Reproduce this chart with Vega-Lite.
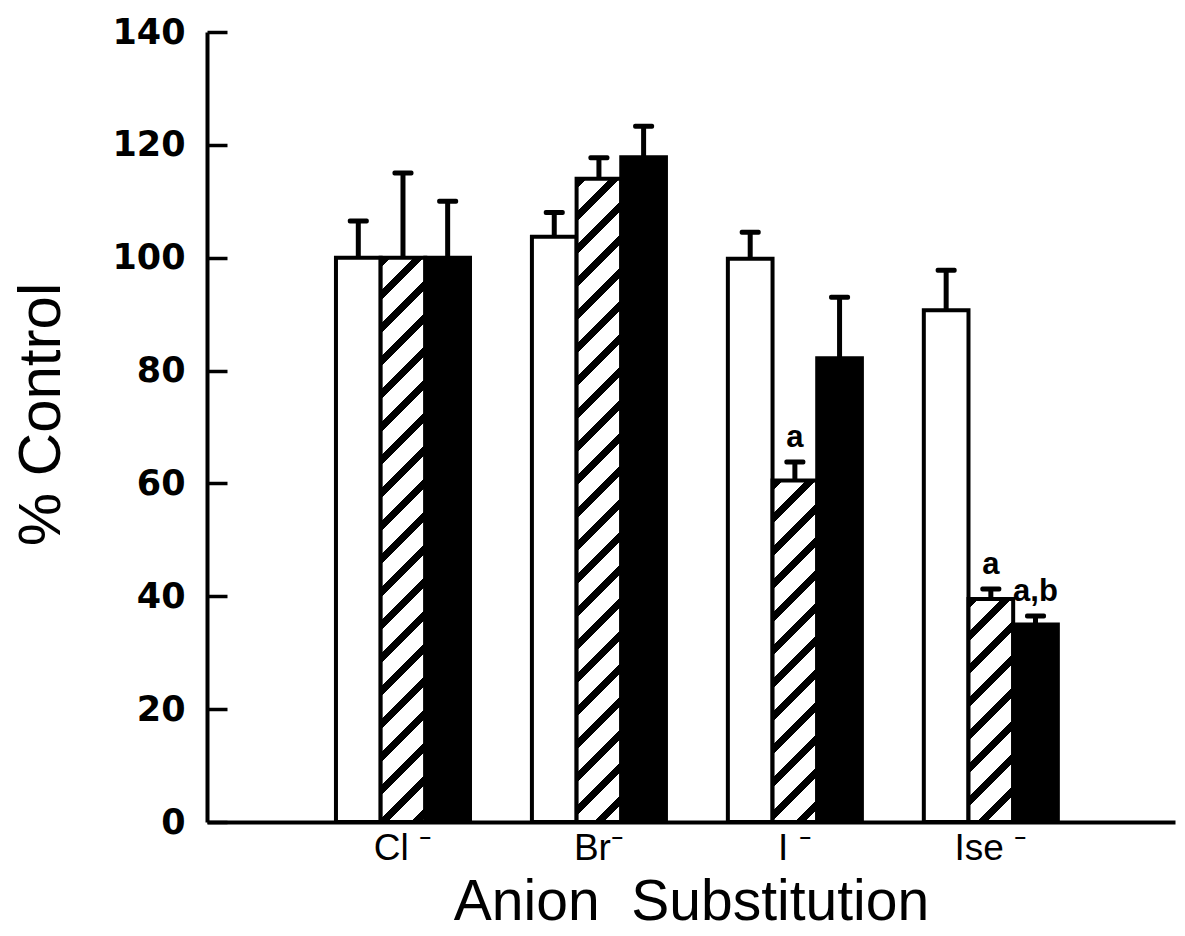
{
"$schema":"https://vega.github.io/schema/vega-lite/v6.json",
"width":968,"height":790,
"autosize":{"type":"none"},
"padding":{"left":207,"top":32,"right":10,"bottom":114},
"background":"white",
"config":{"view":{"stroke":null},"axis":{"domainColor":"black","tickColor":"black","labelColor":"black","titleColor":"black","grid":false}},
"data":{"values":[
{"group":"Cl","series":"control","value":100,"err":106.5},
{"group":"Cl","series":"hatched","value":100,"err":115},
{"group":"Cl","series":"solid","value":100,"err":110},
{"group":"Br","series":"control","value":103.7,"err":108},
{"group":"Br","series":"hatched","value":114,"err":117.7},
{"group":"Br","series":"solid","value":117.8,"err":123.3},
{"group":"I","series":"control","value":99.8,"err":104.5},
{"group":"I","series":"hatched","value":60.5,"err":63.8,"annot":"a"},
{"group":"I","series":"solid","value":82.2,"err":93},
{"group":"Ise","series":"control","value":90.7,"err":97.8},
{"group":"Ise","series":"hatched","value":39.5,"err":41.3,"annot":"a"},
{"group":"Ise","series":"solid","value":35,"err":36.5,"annot":"a,b"}
]},
"encoding":{
"x":{"field":"group","type":"nominal","sort":["Cl","Br","I","Ise"],
"scale":{"paddingInner":0.316,"paddingOuter":0.628,"align":0.524},
"axis":{"title":"Anion\u00a0 Substitution","ticks":false,"domainWidth":4,"labelFont":"Liberation Sans","labelFontSize":37,"labelPadding":8,"labelAngle":0,
"labelExpr":"{'Cl':'Cl \u207b','Br':'Br\u207b','I':'I \u207b','Ise':'Ise \u207b'}[datum.value]",
"titleFont":"Liberation Sans","titleFontSize":57,"titleFontWeight":"normal","titlePadding":8}},
"xOffset":{"field":"series","type":"nominal","sort":["control","hatched","solid"],"scale":{"paddingInner":0,"paddingOuter":0}}
},
"layer":[
{"mark":{"type":"bar","stroke":"black","strokeWidth":4},
"encoding":{
"y":{"field":"value","type":"quantitative","scale":{"domain":[0,140]},
"axis":{"values":[0,20,40,60,80,100,120,140],"tickSize":-20,"tickWidth":3.5,"domainWidth":4,"labelFont":"DejaVu Sans","labelFontWeight":"bold","labelFontSize":35,"labelPadding":42,"title":"% Control","titleFont":"Liberation Sans","titleFontSize":60,"titleFontWeight":"normal","titlePadding":39,"titleY":382}},
"fill":{"condition":[
{"test":"datum.series==='solid'","value":"black"},
{"test":"datum.series==='hatched' && datum.group==='Cl'","value":{"gradient":"linear","x1":0,"y1":0,"x2":0.0849,"y2":1.0725,"stops":[
{"offset":0,"color":"#000"},{"offset":0.0164,"color":"#000"},{"offset":0.0164,"color":"#fff"},
{"offset":0.0542,"color":"#fff"},{"offset":0.0542,"color":"#000"},{"offset":0.0706,"color":"#000"},{"offset":0.0706,"color":"#fff"},
{"offset":0.1084,"color":"#fff"},{"offset":0.1084,"color":"#000"},{"offset":0.1248,"color":"#000"},{"offset":0.1248,"color":"#fff"},
{"offset":0.1626,"color":"#fff"},{"offset":0.1626,"color":"#000"},{"offset":0.179,"color":"#000"},{"offset":0.179,"color":"#fff"},
{"offset":0.2167,"color":"#fff"},{"offset":0.2167,"color":"#000"},{"offset":0.2332,"color":"#000"},{"offset":0.2332,"color":"#fff"},
{"offset":0.2709,"color":"#fff"},{"offset":0.2709,"color":"#000"},{"offset":0.2874,"color":"#000"},{"offset":0.2874,"color":"#fff"},
{"offset":0.3251,"color":"#fff"},{"offset":0.3251,"color":"#000"},{"offset":0.3416,"color":"#000"},{"offset":0.3416,"color":"#fff"},
{"offset":0.3793,"color":"#fff"},{"offset":0.3793,"color":"#000"},{"offset":0.3957,"color":"#000"},{"offset":0.3957,"color":"#fff"},
{"offset":0.4335,"color":"#fff"},{"offset":0.4335,"color":"#000"},{"offset":0.4499,"color":"#000"},{"offset":0.4499,"color":"#fff"},
{"offset":0.4877,"color":"#fff"},{"offset":0.4877,"color":"#000"},{"offset":0.5041,"color":"#000"},{"offset":0.5041,"color":"#fff"},
{"offset":0.5419,"color":"#fff"},{"offset":0.5419,"color":"#000"},{"offset":0.5583,"color":"#000"},{"offset":0.5583,"color":"#fff"},
{"offset":0.5961,"color":"#fff"},{"offset":0.5961,"color":"#000"},{"offset":0.6125,"color":"#000"},{"offset":0.6125,"color":"#fff"},
{"offset":0.6502,"color":"#fff"},{"offset":0.6502,"color":"#000"},{"offset":0.6667,"color":"#000"},{"offset":0.6667,"color":"#fff"},
{"offset":0.7044,"color":"#fff"},{"offset":0.7044,"color":"#000"},{"offset":0.7209,"color":"#000"},{"offset":0.7209,"color":"#fff"},
{"offset":0.7586,"color":"#fff"},{"offset":0.7586,"color":"#000"},{"offset":0.775,"color":"#000"},{"offset":0.775,"color":"#fff"},
{"offset":0.8128,"color":"#fff"},{"offset":0.8128,"color":"#000"},{"offset":0.8292,"color":"#000"},{"offset":0.8292,"color":"#fff"},
{"offset":0.867,"color":"#fff"},{"offset":0.867,"color":"#000"},{"offset":0.8834,"color":"#000"},{"offset":0.8834,"color":"#fff"},
{"offset":0.9212,"color":"#fff"},{"offset":0.9212,"color":"#000"},{"offset":0.9376,"color":"#000"},{"offset":0.9376,"color":"#fff"},
{"offset":0.9754,"color":"#fff"},{"offset":0.9754,"color":"#000"},{"offset":0.9918,"color":"#000"},{"offset":0.9918,"color":"#fff"},
{"offset":1,"color":"#fff"}]}},
{"test":"datum.series==='hatched' && datum.group==='Br'","value":{"gradient":"linear","x1":0,"y1":0,"x2":0.0739,"y2":1.0644,"stops":[
{"offset":0,"color":"#000"},{"offset":0.0145,"color":"#000"},{"offset":0.0145,"color":"#fff"},
{"offset":0.048,"color":"#fff"},{"offset":0.048,"color":"#000"},{"offset":0.0625,"color":"#000"},{"offset":0.0625,"color":"#fff"},
{"offset":0.0959,"color":"#fff"},{"offset":0.0959,"color":"#000"},{"offset":0.1105,"color":"#000"},{"offset":0.1105,"color":"#fff"},
{"offset":0.1439,"color":"#fff"},{"offset":0.1439,"color":"#000"},{"offset":0.1584,"color":"#000"},{"offset":0.1584,"color":"#fff"},
{"offset":0.1919,"color":"#fff"},{"offset":0.1919,"color":"#000"},{"offset":0.2064,"color":"#000"},{"offset":0.2064,"color":"#fff"},
{"offset":0.2398,"color":"#fff"},{"offset":0.2398,"color":"#000"},{"offset":0.2544,"color":"#000"},{"offset":0.2544,"color":"#fff"},
{"offset":0.2878,"color":"#fff"},{"offset":0.2878,"color":"#000"},{"offset":0.3023,"color":"#000"},{"offset":0.3023,"color":"#fff"},
{"offset":0.3358,"color":"#fff"},{"offset":0.3358,"color":"#000"},{"offset":0.3503,"color":"#000"},{"offset":0.3503,"color":"#fff"},
{"offset":0.3837,"color":"#fff"},{"offset":0.3837,"color":"#000"},{"offset":0.3983,"color":"#000"},{"offset":0.3983,"color":"#fff"},
{"offset":0.4317,"color":"#fff"},{"offset":0.4317,"color":"#000"},{"offset":0.4462,"color":"#000"},{"offset":0.4462,"color":"#fff"},
{"offset":0.4797,"color":"#fff"},{"offset":0.4797,"color":"#000"},{"offset":0.4942,"color":"#000"},{"offset":0.4942,"color":"#fff"},
{"offset":0.5276,"color":"#fff"},{"offset":0.5276,"color":"#000"},{"offset":0.5422,"color":"#000"},{"offset":0.5422,"color":"#fff"},
{"offset":0.5756,"color":"#fff"},{"offset":0.5756,"color":"#000"},{"offset":0.5901,"color":"#000"},{"offset":0.5901,"color":"#fff"},
{"offset":0.6235,"color":"#fff"},{"offset":0.6235,"color":"#000"},{"offset":0.6381,"color":"#000"},{"offset":0.6381,"color":"#fff"},
{"offset":0.6715,"color":"#fff"},{"offset":0.6715,"color":"#000"},{"offset":0.6861,"color":"#000"},{"offset":0.6861,"color":"#fff"},
{"offset":0.7195,"color":"#fff"},{"offset":0.7195,"color":"#000"},{"offset":0.734,"color":"#000"},{"offset":0.734,"color":"#fff"},
{"offset":0.7674,"color":"#fff"},{"offset":0.7674,"color":"#000"},{"offset":0.782,"color":"#000"},{"offset":0.782,"color":"#fff"},
{"offset":0.8154,"color":"#fff"},{"offset":0.8154,"color":"#000"},{"offset":0.8299,"color":"#000"},{"offset":0.8299,"color":"#fff"},
{"offset":0.8634,"color":"#fff"},{"offset":0.8634,"color":"#000"},{"offset":0.8779,"color":"#000"},{"offset":0.8779,"color":"#fff"},
{"offset":0.9113,"color":"#fff"},{"offset":0.9113,"color":"#000"},{"offset":0.9259,"color":"#000"},{"offset":0.9259,"color":"#fff"},
{"offset":0.9593,"color":"#fff"},{"offset":0.9593,"color":"#000"},{"offset":0.9738,"color":"#000"},{"offset":0.9738,"color":"#fff"},
{"offset":1,"color":"#fff"}]}},
{"test":"datum.series==='hatched' && datum.group==='I'","value":{"gradient":"linear","x1":0,"y1":0,"x2":0.1455,"y2":1.1119,"stops":[
{"offset":0,"color":"#000"},{"offset":0.0259,"color":"#000"},{"offset":0.0259,"color":"#fff"},
{"offset":0.0855,"color":"#fff"},{"offset":0.0855,"color":"#000"},{"offset":0.1114,"color":"#000"},{"offset":0.1114,"color":"#fff"},
{"offset":0.1709,"color":"#fff"},{"offset":0.1709,"color":"#000"},{"offset":0.1968,"color":"#000"},{"offset":0.1968,"color":"#fff"},
{"offset":0.2564,"color":"#fff"},{"offset":0.2564,"color":"#000"},{"offset":0.2823,"color":"#000"},{"offset":0.2823,"color":"#fff"},
{"offset":0.3419,"color":"#fff"},{"offset":0.3419,"color":"#000"},{"offset":0.3678,"color":"#000"},{"offset":0.3678,"color":"#fff"},
{"offset":0.4274,"color":"#fff"},{"offset":0.4274,"color":"#000"},{"offset":0.4533,"color":"#000"},{"offset":0.4533,"color":"#fff"},
{"offset":0.5128,"color":"#fff"},{"offset":0.5128,"color":"#000"},{"offset":0.5387,"color":"#000"},{"offset":0.5387,"color":"#fff"},
{"offset":0.5983,"color":"#fff"},{"offset":0.5983,"color":"#000"},{"offset":0.6242,"color":"#000"},{"offset":0.6242,"color":"#fff"},
{"offset":0.6838,"color":"#fff"},{"offset":0.6838,"color":"#000"},{"offset":0.7097,"color":"#000"},{"offset":0.7097,"color":"#fff"},
{"offset":0.7692,"color":"#fff"},{"offset":0.7692,"color":"#000"},{"offset":0.7951,"color":"#000"},{"offset":0.7951,"color":"#fff"},
{"offset":0.8547,"color":"#fff"},{"offset":0.8547,"color":"#000"},{"offset":0.8806,"color":"#000"},{"offset":0.8806,"color":"#fff"},
{"offset":0.9402,"color":"#fff"},{"offset":0.9402,"color":"#000"},{"offset":0.9661,"color":"#000"},{"offset":0.9661,"color":"#fff"},
{"offset":1,"color":"#fff"}]}},
{"test":"datum.series==='hatched' && datum.group==='Ise'","value":{"gradient":"linear","x1":0,"y1":0,"x2":0.2313,"y2":1.1542,"stops":[
{"offset":0,"color":"#000"},{"offset":0.0374,"color":"#000"},{"offset":0.0374,"color":"#fff"},
{"offset":0.1233,"color":"#fff"},{"offset":0.1233,"color":"#000"},{"offset":0.1607,"color":"#000"},{"offset":0.1607,"color":"#fff"},
{"offset":0.2466,"color":"#fff"},{"offset":0.2466,"color":"#000"},{"offset":0.284,"color":"#000"},{"offset":0.284,"color":"#fff"},
{"offset":0.37,"color":"#fff"},{"offset":0.37,"color":"#000"},{"offset":0.4073,"color":"#000"},{"offset":0.4073,"color":"#fff"},
{"offset":0.4933,"color":"#fff"},{"offset":0.4933,"color":"#000"},{"offset":0.5306,"color":"#000"},{"offset":0.5306,"color":"#fff"},
{"offset":0.6166,"color":"#fff"},{"offset":0.6166,"color":"#000"},{"offset":0.654,"color":"#000"},{"offset":0.654,"color":"#fff"},
{"offset":0.7399,"color":"#fff"},{"offset":0.7399,"color":"#000"},{"offset":0.7773,"color":"#000"},{"offset":0.7773,"color":"#fff"},
{"offset":0.8632,"color":"#fff"},{"offset":0.8632,"color":"#000"},{"offset":0.9006,"color":"#000"},{"offset":0.9006,"color":"#fff"},
{"offset":0.9866,"color":"#fff"},{"offset":0.9866,"color":"#000"},{"offset":1,"color":"#000"}]}}
],"value":"white"}
}},
{"mark":{"type":"rule","strokeWidth":5,"color":"black"},
"encoding":{"y":{"field":"value","type":"quantitative"},"y2":{"field":"err"}}},
{"mark":{"type":"tick","color":"black","size":21,"thickness":5,"cornerRadius":2,"opacity":1},
"encoding":{"y":{"field":"err","type":"quantitative"}}},
{"transform":[{"filter":"datum.annot"}],
"mark":{"type":"text","font":"Liberation Sans","fontWeight":"bold","fontSize":31,"baseline":"alphabetic","dy":-15,"color":"black"},
"encoding":{"y":{"field":"err","type":"quantitative"},"text":{"field":"annot"}}}
]
}
